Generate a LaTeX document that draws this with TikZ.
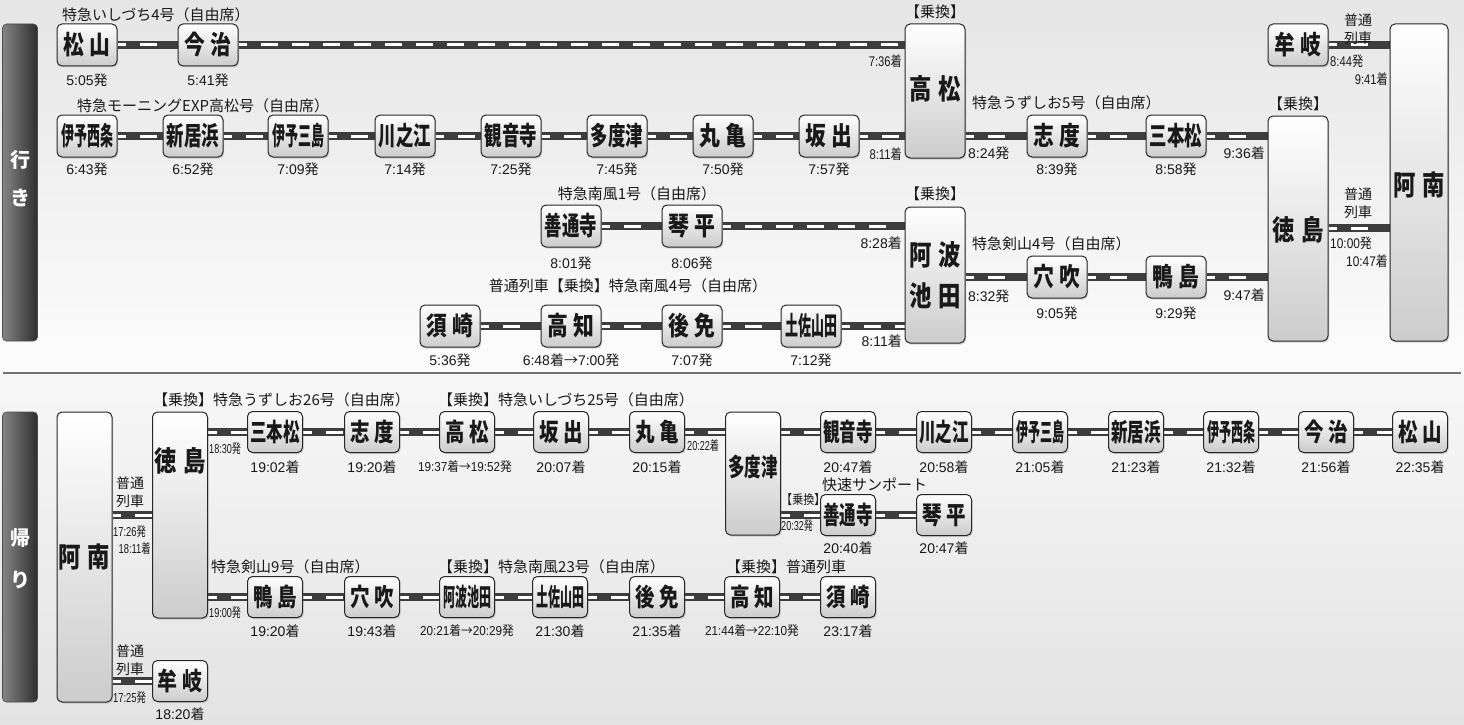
\documentclass[tikz,border=0pt]{standalone}
\usepackage{fontspec}
\setmainfont{Noto Sans CJK JP}
\newfontfamily\lat{Liberation Sans}
\usepackage{graphicx}
\usetikzlibrary{shadows,calc,decorations.markings}
\pgfdeclarelayer{back}
\pgfdeclarelayer{rails}
\pgfsetlayers{back,rails,main}
\newcommand\sq[2]{\scalebox{#1}[1]{#2}}
\newcommand\tmx[2]{{\lat #1}#2}
\newcommand\stf{\bfseries}
\tikzset{
  box/.style={draw=black!85, line width=1pt, rounded corners=5pt, top color=white, bottom color=black!20, inner sep=0pt,
    drop shadow={shadow xshift=1.2pt, shadow yshift=-1.5pt, opacity=0.3}},
  stA/.style={box, minimum width=60pt, minimum height=42pt, font=\fontsize{26}{26}\selectfont\stf},
  stB/.style={box, minimum width=55pt, minimum height=41pt, font=\fontsize{25}{25}\selectfont\stf},
  tallname/.style={inner sep=0pt, font=\fontsize{28}{28}\selectfont\stf},
  tm/.style={inner sep=0pt, font=\fontsize{14}{14}\selectfont},
  tmc/.style={inner sep=0pt, font=\fontsize{14}{14}\selectfont},
  tms/.style={inner sep=0pt, font=\fontsize{13}{13}\selectfont},
  lbl/.style={inner sep=0pt, font=\fontsize{15}{15}\selectfont},
  lbl2/.style={inner sep=0pt, align=center, font=\fontsize{14}{18}\selectfont},
  rail/.style={draw=black!76, line width=8pt,
    postaction={decorate, decoration={markings,
      mark=between positions 0 and 1 step 31pt with {\fill[white] (-8.5pt,-1.5pt) rectangle (8.5pt,1.5pt);}}}},
  tab/.style={rounded corners=4pt, left color=black!48, right color=black!82, draw=black!70, line width=0.6pt, inner sep=0pt, minimum width=35pt},
  tabtxt/.style={text=white, inner sep=0pt, font=\fontsize{20}{20}\selectfont\stf},
}
\begin{document}
\begin{tikzpicture}[x=1pt,y=-1pt,every node/.append style={text=black!90}]
\useasboundingbox (0,0) rectangle (1464,725);
\begin{pgfonlayer}{back}
  \shade[top color=black!10, bottom color=black!1] (0,0) rectangle (1464,373);
  \shade[top color=black!3, bottom color=black!11] (0,373) rectangle (1464,725);
  \draw[black!55, line width=1.5pt] (3,373) -- (1461,373);
\end{pgfonlayer}

% ---------- tabs ----------
\node[tab, minimum height=317pt] (tabA) at (20,182.5) {};
\node[tabtxt] (tabA1) at (20,160) {行};
\node[tabtxt] (tabA2) at (20,198) {き};
\node[tab, minimum height=290pt] (tabB) at (20,557) {};
\node[tabtxt] (tabB1) at (20,538) {帰};
\node[tabtxt] (tabB2) at (20,580) {り};

% ================= outbound =================
% Row A
\node[stA] (matsuyamaA) at (87,45) {\sq{.8}{松\hspace{6pt}山}};
\node[stA] (imabariA) at (208,45) {\sq{.8}{今\hspace{6pt}治}};
\node[box, minimum width=60pt, minimum height=134pt] (takamatsuA) at (935,91) {};
\node[tallname] (takamatsuAn) at (935,89) {\sq{.8}{高\hspace{8pt}松}};
\node[stA] (mugiA) at (1298,45) {\sq{.8}{牟\hspace{6pt}岐}};
\node[box, minimum width=58pt, minimum height=317pt] (ananA) at (1419,182.5) {};
\node[tallname] (ananAn) at (1419,185) {\sq{.8}{阿\hspace{8pt}南}};

\node[lbl, anchor=west] (lA1) at (62,15) {特急いしづち4号（自由席）};
\node[lbl] (lA2) at (935,12) {【乗換】};
\node[lbl2] (lA3) at (1358,29) {普通\\列車};
\node[tm] (tA1) at (87,80) {\tmx{5:05}{発}};
\node[tm] (tA2) at (208,80) {\tmx{5:41}{発}};
\node[tmc, anchor=east] (tA3) at (902,61) {\sq{.8}{\tmx{7:36}{着}}};
\node[tmc, anchor=west] (tA4) at (1330,61) {\sq{.8}{\tmx{8:44}{発}}};
\node[tmc, anchor=east] (tA5) at (1388,79) {\sq{.8}{\tmx{9:41}{着}}};

% Row B
\node[stA] (iyosaijoA) at (87,136) {\sq{.5}{伊予西条}};
\node[stA] (niihamaA) at (193,136) {\sq{.67}{新居浜}};
\node[stA] (iyomishimaA) at (298,136) {\sq{.5}{伊予三島}};
\node[stA] (kawanoeA) at (405,136) {\sq{.67}{川之江}};
\node[stA] (kanonjiA) at (511,136) {\sq{.67}{観音寺}};
\node[stA] (tadotsuA) at (617,136) {\sq{.67}{多度津}};
\node[stA] (marugameA) at (723,136) {\sq{.8}{丸\hspace{6pt}亀}};
\node[stA] (sakaideA) at (829,136) {\sq{.8}{坂\hspace{6pt}出}};
\node[stA] (shidoA) at (1057,136) {\sq{.8}{志\hspace{6pt}度}};
\node[stA] (sanbonmatsuA) at (1176,136) {\sq{.67}{三本松}};
\node[box, minimum width=60pt, minimum height=225pt] (tokushimaA) at (1298,228.5) {};
\node[tallname] (tokushimaAn) at (1298,230) {\sq{.8}{徳\hspace{8pt}島}};

\node[lbl, anchor=west] (lB1) at (77,106) {特急モーニングEXP高松号（自由席）};
\node[lbl, anchor=west] (lB2) at (972,103) {特急うずしお5号（自由席）};
\node[lbl] (lB3) at (1298,104) {【乗換】};
\node[tm] (tB1) at (87,169) {\tmx{6:43}{発}};
\node[tm] (tB2) at (193,169) {\tmx{6:52}{発}};
\node[tm] (tB3) at (298,169) {\tmx{7:09}{発}};
\node[tm] (tB4) at (405,169) {\tmx{7:14}{発}};
\node[tm] (tB5) at (511,169) {\tmx{7:25}{発}};
\node[tm] (tB6) at (617,169) {\tmx{7:45}{発}};
\node[tm] (tB7) at (723,169) {\tmx{7:50}{発}};
\node[tm] (tB8) at (829,169) {\tmx{7:57}{発}};
\node[tmc, anchor=east] (tB9) at (902,154) {\sq{.8}{\tmx{8:11}{着}}};
\node[tm, anchor=west] (tB10) at (968,153) {\tmx{8:24}{発}};
\node[tm] (tB11) at (1057,169) {\tmx{8:39}{発}};
\node[tm] (tB12) at (1176,169) {\tmx{8:58}{発}};
\node[tm, anchor=east] (tB13) at (1265,153) {\tmx{9:36}{着}};

% Row C
\node[stA] (zentsujiA) at (571,226) {\sq{.67}{善通寺}};
\node[stA] (kotohiraA) at (692,226) {\sq{.8}{琴\hspace{6pt}平}};
\node[box, minimum width=60pt, minimum height=136pt] (awaikedaA) at (935,275) {};
\node[tallname] (awaikedaAn1) at (935,255) {\sq{.8}{阿\hspace{8pt}波}};
\node[tallname] (awaikedaAn2) at (935,296) {\sq{.8}{池\hspace{8pt}田}};
\node[stA] (anabukiA) at (1057,277) {\sq{.8}{穴\hspace{6pt}吹}};
\node[stA] (kamojimaA) at (1176,277) {\sq{.8}{鴨\hspace{6pt}島}};

\node[lbl] (lC1) at (637,194) {特急南風1号（自由席）};
\node[lbl] (lC2) at (935,194) {【乗換】};
\node[lbl, anchor=west] (lC3) at (972,244) {特急剣山4号（自由席）};
\node[lbl2] (lC4) at (1358,203) {普通\\列車};
\node[tm] (tC1) at (571,263) {\tmx{8:01}{発}};
\node[tm] (tC2) at (692,263) {\tmx{8:06}{発}};
\node[tm, anchor=east] (tC3) at (902,243) {\tmx{8:28}{着}};
\node[tm, anchor=west] (tC4) at (968,296) {\tmx{8:32}{発}};
\node[tm] (tC5) at (1057,313) {\tmx{9:05}{発}};
\node[tm] (tC6) at (1176,313) {\tmx{9:29}{発}};
\node[tm, anchor=east] (tC7) at (1265,295) {\tmx{9:47}{着}};
\node[tmc, anchor=west] (tC8) at (1330,243) {\sq{.85}{\tmx{10:00}{発}}};
\node[tmc, anchor=east] (tC9) at (1388,261) {\sq{.85}{\tmx{10:47}{着}}};

% Row D
\node[stA] (susakiA) at (450,326) {\sq{.8}{須\hspace{6pt}崎}};
\node[stA] (kochiA) at (571,326) {\sq{.8}{高\hspace{6pt}知}};
\node[stA] (gomenA) at (692,326) {\sq{.8}{後\hspace{6pt}免}};
\node[stA] (tosayamadaA) at (811,326) {\sq{.5}{土佐山田}};

\node[lbl] (lD1) at (628,286) {普通列車【乗換】特急南風4号（自由席）};
\node[tm] (tD1) at (450,360) {\tmx{5:36}{発}};
\node[tm] (tD2) at (571,360) {\tmx{6:48}{着}→\tmx{7:00}{発}};
\node[tm] (tD3) at (692,360) {\tmx{7:07}{発}};
\node[tm] (tD4) at (811,360) {\tmx{7:12}{発}};
\node[tm, anchor=east] (tD5) at (902,341) {\tmx{8:11}{着}};

% rails outbound
\coordinate (jA) at (1358,228);
\begin{pgfonlayer}{rails}
\draw[rail] (matsuyamaA.east) -- (imabariA.west);
\draw[rail] (imabariA.east) -- (imabariA.east -| takamatsuA.west);
\draw[rail] (mugiA.east) -- (mugiA.east -| ananA.west);
\draw[rail] (iyosaijoA.east) -- (niihamaA.west);
\draw[rail] (niihamaA.east) -- (iyomishimaA.west);
\draw[rail] (iyomishimaA.east) -- (kawanoeA.west);
\draw[rail] (kawanoeA.east) -- (kanonjiA.west);
\draw[rail] (kanonjiA.east) -- (tadotsuA.west);
\draw[rail] (tadotsuA.east) -- (marugameA.west);
\draw[rail] (marugameA.east) -- (sakaideA.west);
\draw[rail] (sakaideA.east) -- (sakaideA.east -| takamatsuA.west);
\draw[rail] (shidoA.west -| takamatsuA.east) -- (shidoA.west);
\draw[rail] (shidoA.east) -- (sanbonmatsuA.west);
\draw[rail] (sanbonmatsuA.east) -- (sanbonmatsuA.east -| tokushimaA.west);
\draw[rail] (jA -| tokushimaA.east) -- (jA -| ananA.west);
\draw[rail] (zentsujiA.east) -- (kotohiraA.west);
\draw[rail] (kotohiraA.east) -- (kotohiraA.east -| awaikedaA.west);
\draw[rail] (anabukiA.west -| awaikedaA.east) -- (anabukiA.west);
\draw[rail] (anabukiA.east) -- (kamojimaA.west);
\draw[rail] (kamojimaA.east) -- (kamojimaA.east -| tokushimaA.west);
\draw[rail] (susakiA.east) -- (kochiA.west);
\draw[rail] (kochiA.east) -- (gomenA.west);
\draw[rail] (gomenA.east) -- (tosayamadaA.west);
\draw[rail] (tosayamadaA.east) -- (tosayamadaA.east -| awaikedaA.west);
\end{pgfonlayer}

% ================= return =================
\node[box, minimum width=55pt, minimum height=290pt] (ananB) at (84.5,557) {};
\node[tallname] (ananBn) at (84.5,557) {\sq{.8}{阿\hspace{8pt}南}};
\node[box, minimum width=55pt, minimum height=206pt] (tokushimaB) at (180,515) {};
\node[tallname] (tokushimaBn) at (180,461) {\sq{.8}{徳\hspace{8pt}島}};
\node[stB] (mugiB) at (180,681) {\sq{.8}{牟\hspace{6pt}岐}};

\node[lbl2] (lE0) at (130,492) {普通\\列車};
\node[lbl2] (lG0) at (130,660) {普通\\列車};
\node[tms, anchor=west] (tE01) at (113,532) {\sq{.72}{\tmx{17:26}{発}}};
\node[tms, anchor=east] (tE02) at (151,549) {\sq{.72}{\tmx{18:11}{着}}};
\node[tms, anchor=west] (tG01) at (113,698) {\sq{.72}{\tmx{17:25}{発}}};
\node[tm] (tG02) at (180,714) {\tmx{18:20}{着}};

% Row E
\node[stB] (sanbonmatsuB) at (275,432) {\sq{.66}{三本松}};
\node[stB] (shidoB) at (372,432) {\sq{.78}{志\hspace{6pt}度}};
\node[stB] (takamatsuB) at (467,432) {\sq{.78}{高\hspace{6pt}松}};
\node[stB] (sakaideB) at (561,432) {\sq{.78}{坂\hspace{6pt}出}};
\node[stB] (marugameB) at (657,432) {\sq{.78}{丸\hspace{6pt}亀}};
\node[box, minimum width=55pt, minimum height=123pt] (tadotsuB) at (753,473.5) {};
\node[tallname, font=\fontsize{25}{25}\selectfont\stf] (tadotsuBn) at (753,467) {\sq{.66}{多度津}};
\node[stB] (kanonjiB) at (848,432) {\sq{.66}{観音寺}};
\node[stB] (kawanoeB) at (944,432) {\sq{.66}{川之江}};
\node[stB] (iyomishimaB) at (1040,432) {\sq{.48}{伊予三島}};
\node[stB] (niihamaB) at (1136,432) {\sq{.66}{新居浜}};
\node[stB] (iyosaijoB) at (1231,432) {\sq{.48}{伊予西条}};
\node[stB] (imabariB) at (1326,432) {\sq{.78}{今\hspace{6pt}治}};
\node[stB] (matsuyamaB) at (1420,432) {\sq{.78}{松\hspace{6pt}山}};

\node[lbl, anchor=west] (lE1) at (153,400) {【乗換】特急うずしお26号（自由席）};
\node[lbl, anchor=west] (lE2) at (438,400) {【乗換】特急いしづち25号（自由席）};
\node[tms, anchor=west] (tE1) at (209,449) {\sq{.7}{\tmx{18:30}{発}}};
\node[tm] (tE2) at (275,467) {\tmx{19:02}{着}};
\node[tm] (tE3) at (372,467) {\tmx{19:20}{着}};
\node[tms] (tE4) at (465,467) {\sq{.9}{\tmx{19:37}{着}→\tmx{19:52}{発}}};
\node[tm] (tE5) at (561,467) {\tmx{20:07}{着}};
\node[tm] (tE6) at (657,467) {\tmx{20:15}{着}};
\node[tms, anchor=west] (tE7) at (687,446) {\sq{.7}{\tmx{20:22}{着}}};
\node[tm] (tE8) at (848,467) {\tmx{20:47}{着}};
\node[tm] (tE9) at (944,467) {\tmx{20:58}{着}};
\node[tm] (tE10) at (1040,467) {\tmx{21:05}{着}};
\node[tm] (tE11) at (1136,467) {\tmx{21:23}{着}};
\node[tm] (tE12) at (1231,467) {\tmx{21:32}{着}};
\node[tm] (tE13) at (1326,467) {\tmx{21:56}{着}};
\node[tm] (tE14) at (1420,467) {\tmx{22:35}{着}};

% Row F
\node[stB] (zentsujiB) at (848,515) {\sq{.66}{善通寺}};
\node[stB] (kotohiraB) at (944,515) {\sq{.78}{琴\hspace{6pt}平}};
\node[lbl, anchor=west] (lF1) at (822,485) {快速サンポート};
\node[tms, anchor=west] (lF2) at (781,500) {\sq{.85}{【乗換】}};
\node[tms, anchor=west] (tF1) at (781,526) {\sq{.7}{\tmx{20:32}{発}}};
\node[tm] (tF2) at (848,548) {\tmx{20:40}{着}};
\node[tm] (tF3) at (944,548) {\tmx{20:47}{着}};

% Row G
\node[stB] (kamojimaB) at (275,597) {\sq{.78}{鴨\hspace{6pt}島}};
\node[stB] (anabukiB) at (372,597) {\sq{.78}{穴\hspace{6pt}吹}};
\node[stB] (awaikedaB) at (467,597) {\sq{.48}{阿波池田}};
\node[stB] (tosayamadaB) at (560,597) {\sq{.48}{土佐山田}};
\node[stB] (gomenB) at (657,597) {\sq{.78}{後\hspace{6pt}免}};
\node[stB] (kochiB) at (752,597) {\sq{.78}{高\hspace{6pt}知}};
\node[stB] (susakiB) at (848,597) {\sq{.78}{須\hspace{6pt}崎}};

\node[lbl, anchor=west] (lG1) at (211,567) {特急剣山9号（自由席）};
\node[lbl, anchor=west] (lG2) at (438,567) {【乗換】特急南風23号（自由席）};
\node[lbl, anchor=west] (lG3) at (726,567) {【乗換】普通列車};
\node[tms, anchor=west] (tG1) at (209,613) {\sq{.7}{\tmx{19:00}{発}}};
\node[tm] (tG2) at (275,631) {\tmx{19:20}{着}};
\node[tm] (tG3) at (372,631) {\tmx{19:43}{着}};
\node[tms] (tG4) at (467,631) {\sq{.9}{\tmx{20:21}{着}→\tmx{20:29}{発}}};
\node[tm] (tG5) at (560,631) {\tmx{21:30}{着}};
\node[tm] (tG6) at (657,631) {\tmx{21:35}{着}};
\node[tms] (tG7) at (752,631) {\sq{.9}{\tmx{21:44}{着}→\tmx{22:10}{発}}};
\node[tm] (tG8) at (848,631) {\tmx{23:17}{着}};

% rails return
\coordinate (jB) at (130,515);
\begin{pgfonlayer}{rails}
\draw[rail] (jB -| ananB.east) -- (jB -| tokushimaB.west);
\draw[rail] (mugiB.west -| ananB.east) -- (mugiB.west);
\draw[rail] (sanbonmatsuB.west -| tokushimaB.east) -- (sanbonmatsuB.west);
\draw[rail] (sanbonmatsuB.east) -- (shidoB.west);
\draw[rail] (shidoB.east) -- (takamatsuB.west);
\draw[rail] (takamatsuB.east) -- (sakaideB.west);
\draw[rail] (sakaideB.east) -- (marugameB.west);
\draw[rail] (marugameB.east) -- (marugameB.east -| tadotsuB.west);
\draw[rail] (kanonjiB.west -| tadotsuB.east) -- (kanonjiB.west);
\draw[rail] (kanonjiB.east) -- (kawanoeB.west);
\draw[rail] (kawanoeB.east) -- (iyomishimaB.west);
\draw[rail] (iyomishimaB.east) -- (niihamaB.west);
\draw[rail] (niihamaB.east) -- (iyosaijoB.west);
\draw[rail] (iyosaijoB.east) -- (imabariB.west);
\draw[rail] (imabariB.east) -- (matsuyamaB.west);
\draw[rail] (zentsujiB.west -| tadotsuB.east) -- (zentsujiB.west);
\draw[rail] (zentsujiB.east) -- (kotohiraB.west);
\draw[rail] (kamojimaB.west -| tokushimaB.east) -- (kamojimaB.west);
\draw[rail] (kamojimaB.east) -- (anabukiB.west);
\draw[rail] (anabukiB.east) -- (awaikedaB.west);
\draw[rail] (awaikedaB.east) -- (tosayamadaB.west);
\draw[rail] (tosayamadaB.east) -- (gomenB.west);
\draw[rail] (gomenB.east) -- (kochiB.west);
\draw[rail] (kochiB.east) -- (susakiB.west);
\end{pgfonlayer}
\end{tikzpicture}
\end{document}
